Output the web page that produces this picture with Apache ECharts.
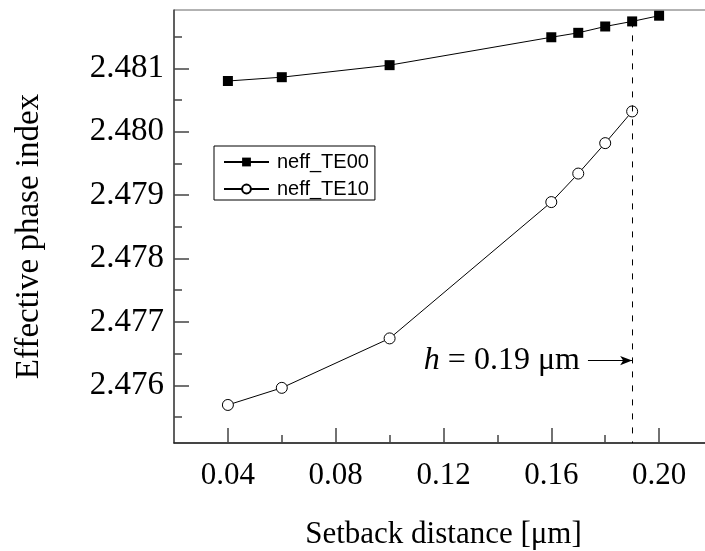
<!DOCTYPE html>
<html>
<head>
<meta charset="utf-8">
<script src="https://cdn.jsdelivr.net/npm/echarts@6/dist/echarts.min.js"></script>
<style>html,body{margin:0;padding:0;background:#fff;}#c{width:705px;height:551px;}</style>
</head>
<body>
<div id="c"></div>
<script>
// ---- data ----
const xTE00 = [0.04, 0.06, 0.10, 0.16, 0.17, 0.18, 0.19, 0.20];
const yTE00 = [2.48080, 2.48086, 2.48105, 2.48149, 2.48156, 2.48166, 2.48174, 2.48183];
const xTE10 = [0.04, 0.06, 0.10, 0.16, 0.17, 0.18, 0.19];
const yTE10 = [2.47569, 2.47596, 2.47674, 2.47889, 2.47934, 2.47982, 2.48032];
const xMajorTicks = [0.04, 0.08, 0.12, 0.16, 0.20];
const xMinorTicks = [0.06, 0.10, 0.14, 0.18];
const yMajorTicks = [2.476, 2.477, 2.478, 2.479, 2.480, 2.481];
const yMinorTicks = [2.4755, 2.4765, 2.4775, 2.4785, 2.4795, 2.4805, 2.4815];
const xRange = [0.02, 0.22];
const yRange = [2.47509, 2.48192];
const hValue = 0.19;
const arrowStartX = 0.1736;
const arrowY = 2.47639;
const seriesNames = ['neff_TE00', 'neff_TE10'];

const pairs = (xs, ys) => xs.map((x, i) => [x, ys[i]]);

const serif = 'Liberation Serif';
const tickColor = '#444';

const chart = echarts.init(document.getElementById('c'), null, {renderer: 'canvas'});
chart.setOption({
  animation: false,
  backgroundColor: '#fff',
  grid: {left: 174, top: 10, bottom: 108, right: -8, show: true, borderColor: '#666', borderWidth: 1,
         containLabel: false, outerBoundsMode: 'none'},
  legend: {
    left: 214, top: 146, orient: 'vertical',
    borderColor: '#000', borderWidth: 1, borderRadius: 0,
    padding: [6, 6, 1, 9], itemGap: 7, itemWidth: 45, itemHeight: 11,
    data: seriesNames,
    textStyle: {fontFamily: 'Liberation Sans', fontSize: 20, color: '#000', padding: [0, 0, 0, 3]}
  },
  xAxis: [{
    type: 'value', min: xRange[0], max: xRange[1], position: 'bottom',
    name: 'Setback distance [μm]', nameLocation: 'middle', nameGap: 76,
    nameTextStyle: {fontFamily: serif, fontSize: 31, color: '#000'},
    axisLine: {show: true, lineStyle: {color: '#222', width: 1.5}},
    axisTick: {show: true, inside: true, length: 15, customValues: xMajorTicks, lineStyle: {color: tickColor, width: 1.5}},
    axisLabel: {show: true, customValues: xMajorTicks, margin: 17, fontFamily: serif, fontSize: 31, color: '#000', formatter: v => v.toFixed(2)},
    splitLine: {show: false}
  }, {
    type: 'value', min: xRange[0], max: xRange[1], position: 'bottom',
    axisLine: {show: false},
    axisTick: {show: true, inside: true, length: 8, customValues: xMinorTicks, lineStyle: {color: tickColor, width: 1.5}},
    axisLabel: {show: false},
    splitLine: {show: false}
  }],
  yAxis: [{
    type: 'value', min: yRange[0], max: yRange[1], position: 'left',
    name: 'Effective phase index', nameLocation: 'middle', nameRotate: 90, nameGap: 128,
    nameTextStyle: {fontFamily: serif, fontSize: 33, color: '#000', padding: [0, 20, 0, 0]},
    axisLine: {show: true, lineStyle: {color: '#444', width: 1.5}},
    axisTick: {show: true, inside: true, length: 15, customValues: yMajorTicks, lineStyle: {color: tickColor, width: 1.5}},
    axisLabel: {show: true, customValues: yMajorTicks, margin: 10, fontFamily: serif, fontSize: 33, color: '#000', formatter: v => v.toFixed(3)},
    splitLine: {show: false}
  }, {
    type: 'value', min: yRange[0], max: yRange[1], position: 'left',
    axisLine: {show: false},
    axisTick: {show: true, inside: true, length: 8, customValues: yMinorTicks, lineStyle: {color: tickColor, width: 1.5}},
    axisLabel: {show: false},
    splitLine: {show: false}
  }],
  series: [{
    name: seriesNames[0], type: 'line', xAxisIndex: 0, yAxisIndex: 0,
    data: pairs(xTE00, yTE00),
    symbol: 'rect', symbolSize: 10,
    lineStyle: {color: '#000', width: 1},
    itemStyle: {color: '#000', borderColor: '#000', borderWidth: 0},
    z: 3,
    markLine: {
      silent: true, animation: false, symbol: ['none', 'none'],
      data: [
        [{coord: [hValue, yTE00[xTE00.indexOf(hValue)]], symbol: 'none'},
         {coord: [hValue, yRange[0]], symbol: 'none'}],
        [{coord: [arrowStartX, arrowY], symbol: 'none',
          lineStyle: {type: 'solid', color: '#000', width: 1},
          label: {show: true, position: 'start', distance: 8, formatter: '{i|h} = 0.19 μm',
            fontFamily: serif, fontSize: 32, color: '#000',
            rich: {i: {fontFamily: serif, fontSize: 32, fontStyle: 'italic', color: '#000'}}}},
         {coord: [hValue, arrowY], symbol: 'arrow', symbolSize: [7, 12]}]
      ],
      lineStyle: {type: [6, 8], color: '#000', width: 1},
      label: {show: false}
    }
  }, {
    name: seriesNames[1], type: 'line', xAxisIndex: 0, yAxisIndex: 0,
    data: pairs(xTE10, yTE10),
    symbol: 'circle', symbolSize: 11,
    lineStyle: {color: '#000', width: 1},
    itemStyle: {color: '#fff', borderColor: '#000', borderWidth: 1},
    z: 3
  }]
});
</script>
</body>
</html>
